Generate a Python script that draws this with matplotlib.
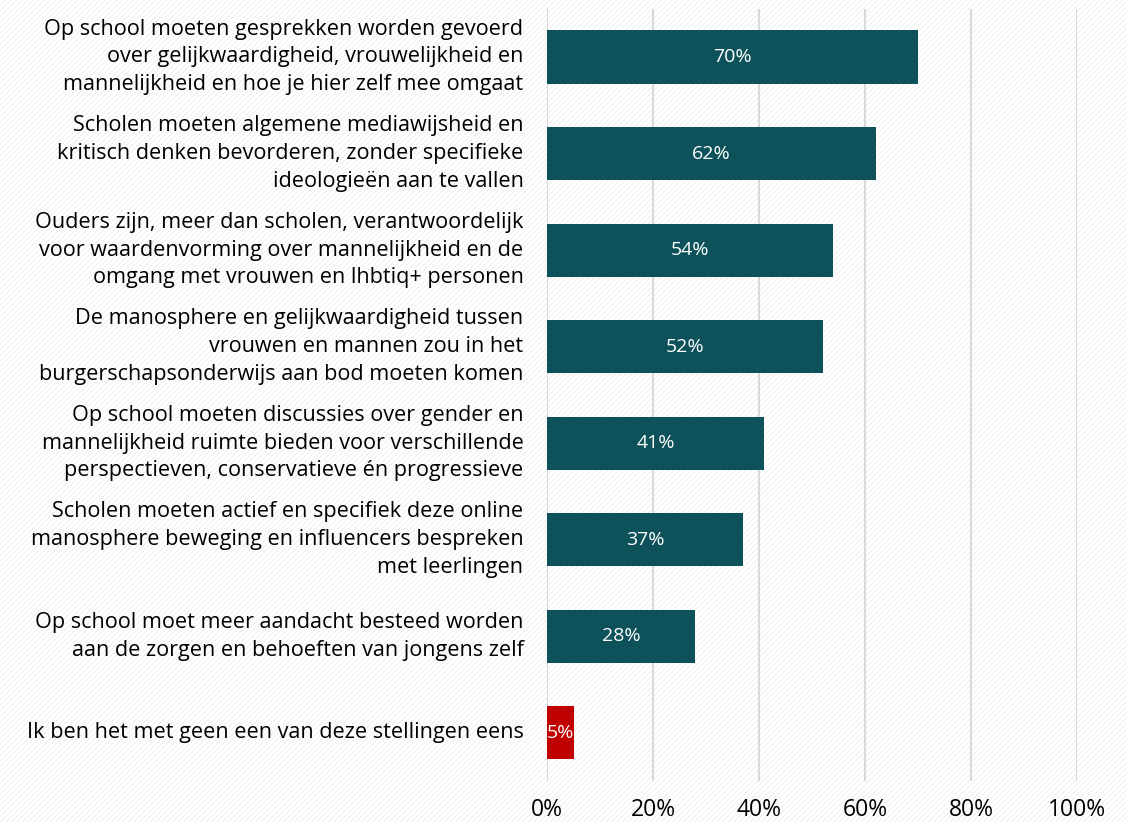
import numpy as np
import matplotlib.pyplot as plt
from matplotlib.patches import Rectangle

# statements and share agreeing (%)
labels = [
    "Op school moeten gesprekken worden gevoerd\nover gelijkwaardigheid, vrouwelijkheid en\nmannelijkheid en hoe je hier zelf mee omgaat",
    "Scholen moeten algemene mediawijsheid en\nkritisch denken bevorderen, zonder specifieke\nideologieën aan te vallen",
    "Ouders zijn, meer dan scholen, verantwoordelijk\nvoor waardenvorming over mannelijkheid en de\nomgang met vrouwen en lhbtiq+ personen",
    "De manosphere en gelijkwaardigheid tussen\nvrouwen en mannen zou in het\nburgerschapsonderwijs aan bod moeten komen",
    "Op school moeten discussies over gender en\nmannelijkheid ruimte bieden voor verschillende\nperspectieven, conservatieve én progressieve",
    "Scholen moeten actief en specifiek deze online\nmanosphere beweging en influencers bespreken\nmet leerlingen",
    "Op school moet meer aandacht besteed worden\naan de zorgen en behoeften van jongens zelf",
    "Ik ben het met geen een van deze stellingen eens",
]
values = [70, 62, 54, 52, 41, 37, 28, 5]
colors = ["#0D525A"] * 7 + ["#C00000"]
ticks = [0, 20, 40, 60, 80, 100]

plt.rcParams['font.family'] = ['Open Sans', 'DejaVu Sans']
plt.rcParams['hatch.linewidth'] = 0.6

fig = plt.figure(figsize=(11.27, 8.22), dpi=100)
fig.patches.append(Rectangle((0, 0), 1, 1, transform=fig.transFigure, facecolor='white',
                             edgecolor='#ededed', hatch='//////', linewidth=0, zorder=-10))
ax = fig.add_axes([0.4854, 0.0499, 0.4702, 0.9395])
ax.set_facecolor('none')

y = np.arange(len(values))
bars = ax.barh(y, values, height=0.55, color=colors, zorder=3)
for b, v in zip(bars, values):
    ax.text(v / 2, b.get_y() + b.get_height() / 2, f"{v}%", ha='center', va='center',
            color='white', fontsize=14, zorder=4)

ax.set_ylim(len(values) - 0.5, -0.5)
ax.set_xlim(0, 100)
ax.set_xticks(ticks)
ax.set_xticklabels([f"{t}%" for t in ticks], fontsize=16.5)
ax.set_yticks(y)
ax.set_yticklabels(labels, fontsize=15.6, linespacing=1.43, va='center')
ax.tick_params(axis='both', length=0)
ax.tick_params(axis='y', pad=17)
ax.tick_params(axis='x', pad=12)
ax.grid(axis='x', color='#d9d9d9', linewidth=1.5, zorder=0)
for s in ax.spines.values():
    s.set_visible(False)

fig.savefig('out.png', dpi=100)
